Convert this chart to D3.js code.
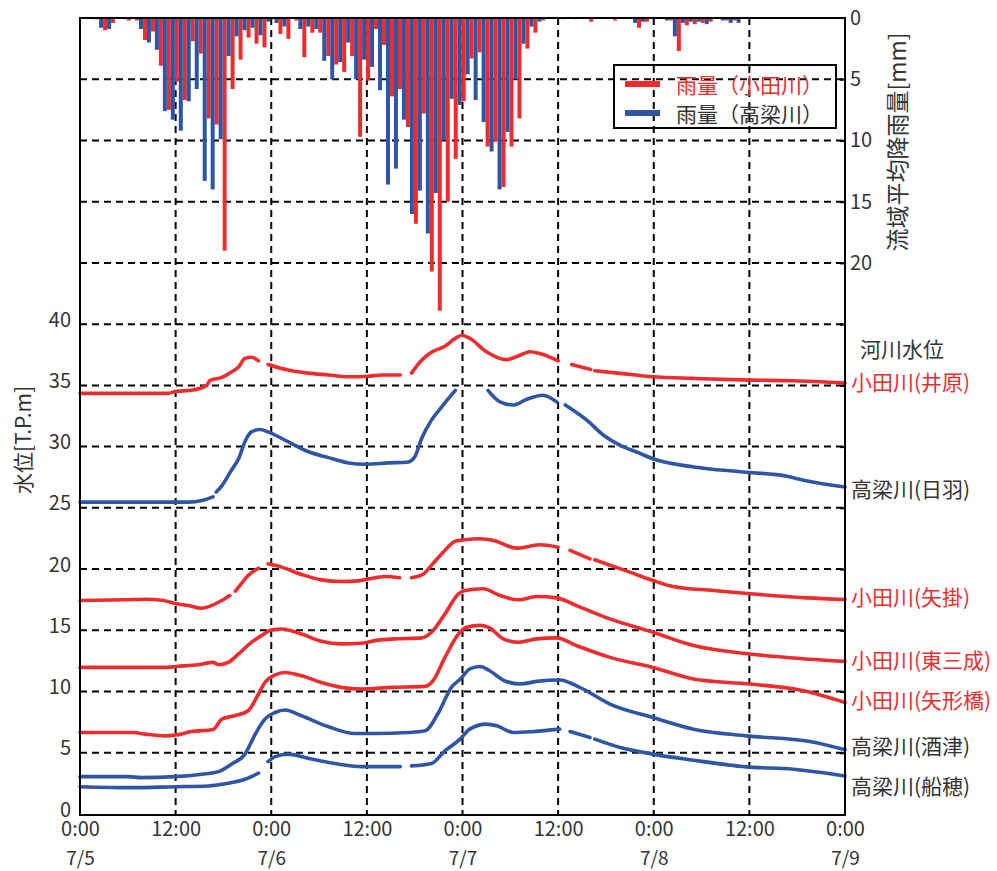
<!DOCTYPE html>
<html>
<head>
<meta charset="utf-8">
<script src="https://cdn.jsdelivr.net/npm/d3@7"></script>
<style>
  body { margin: 0; background: #fff; }
  text { font-family: "Noto Sans CJK JP", "Noto Sans", sans-serif; }
</style>
</head>
<body>
<div id="chart"></div>
<script>
// hourly basin-average rainfall [mm], hour 0 = 7/5 0:00
var rainOda = [0,0,0.1,1.0,0.4,0,0.2,0.2,1.8,1.1,3.9,7.5,5.2,6.7,1.9,2.9,8.2,8.7,19.0,5.8,
  3.4,1.6,2.1,2.4,0.1,1.3,1.7,0.2,3.2,1.2,1.2,3.1,3.8,4.4,3.1,9.7,5.1,0.9,2.2,6.4,
  5.8,8.9,16.8,7.8,20.7,23.9,15.0,11.5,6.8,3.3,2.8,10.5,10.1,13.8,10.5,8.2,2.5,1.2,0.2,0,
  0,0,0.1,0,0.3,0,0,0.2,0,0,0.8,0.3,0,0,0.2,2.7,0.6,0.5,0.4,0.3,
  0,0.2,0.2,0,0,0,0,0,0,0,0,0,0,0,0,0];
var rainTakahashi = [0,0.1,0.8,0.9,0,0.1,0,0.9,2.0,2.6,7.6,8.3,9.2,6.8,5.8,13.3,14.0,9.9,3.1,1.5,
  1.0,0.8,1.4,0.3,0.4,0.7,0,0.9,0.7,0.9,3.5,5.0,3.6,2.0,5.0,3.4,4.0,5.9,13.6,12.3,
  8.3,16.0,14.1,17.6,14.3,10.0,6.6,7.1,4.6,6.7,8.5,10.9,14.0,9.3,5.0,2.1,0.7,0.3,0,0,
  0.1,0,0,0,0,0,0,0,0,0.4,0.3,0,0,0.2,1.5,0.4,0.3,0.3,0.5,0,
  0.2,0.4,0.4,0,0,0,0,0,0,0,0,0,0,0,0,0];

// water levels [T.P.m] as [hour, level], null = missing data
var lvIbara = [[0,34.35],[11,34.35],[12,34.5],[14,34.6],[15.9,35.0],[16.3,35.4],[17.8,35.65],[19,36.1],
  [19.9,36.5],[20.7,37.2],[21.5,37.3],[22.4,37.0],null,[23.6,36.7],[26.1,36.25],[28.6,36.0],[31.2,35.85],
  [33.7,35.7],[36.2,35.75],[37.9,35.85],[40.2,35.85],null,[41.6,36.0],[42.9,37.07],[44.1,37.7],[45.8,38.2],
  [47,38.8],[47.9,39.1],[48.9,38.85],[51,37.75],[53.5,37.1],[54.8,37.35],[56.5,37.75],[57.7,37.6],[60,37.0],
  null,[61.7,36.7],[64.1,36.3],null,[64.6,36.2],[67.8,35.98],[71.9,35.7],[77,35.57],[84.1,35.43],
  [89.5,35.38],[96,35.2]];
var lvHiwa = [[0,25.47],[13.6,25.47],[15.3,25.6],[16.7,25.9],null,[17.1,26.3],[17.8,26.8],[19,28.07],
  [19.9,29.0],[20.7,30.4],[21.5,31.2],[22.6,31.4],[23.6,31.2],[26.1,30.4],[28.6,29.6],[31.2,29.1],
  [33.7,28.67],[35.8,28.56],[38.7,28.67],[41.2,28.75],[42,29.15],[42.9,30.7],[44.1,32.16],[45.4,33.25],
  [47.1,34.6],null,[51.2,34.6],[52.7,33.66],[54.4,33.4],[56,33.85],[58.1,34.2],[59.8,33.66],null,
  [60.9,33.4],[63.6,32.16],[65.7,30.93],[67.8,30.1],[69.8,29.57],[72.4,28.9],[77,28.34],[83.2,27.93],
  [88.7,27.58],[90.8,27.25],[96,26.7]];
var lvYakage = [[0,17.43],[5.6,17.49],[8.2,17.54],[10.5,17.43],[12.1,17.16],[13.6,17.02],[15.2,16.8],
  [17.8,17.43],[18.8,17.84],null,[19.5,18.2],[19.9,18.52],[21.1,19.48],[22.4,20.07],null,[23.6,20.43],
  [25.3,20.16],[27.8,19.56],[30.3,19.12],[32.8,18.99],[34.9,19.04],[36.2,19.2],[38.3,19.39],[40.1,19.29],
  null,[41.6,19.29],[43.1,19.6],[44.1,20.3],[45.4,21.25],[47.1,22.28],[48.3,22.4],[50.2,22.48],
  [51.9,22.34],[54.8,21.71],[57.7,21.99],[60,21.79],null,[61.5,21.52],[64,20.84],null,[64.6,20.76],
  [69,19.75],[71.9,19.07],[74.4,18.58],[79.5,18.25],[84.1,17.98],[91.2,17.65],[96,17.51]];
var lvHigashimina = [[0,11.97],[10.7,11.97],[12.1,12.05],[14.8,12.19],[16.7,12.38],[17.4,12.19],
  [18.6,12.38],[19.9,13.07],[21.5,14.02],[22.8,14.57],[24,15.03],[25.3,15.11],[27.8,14.7],[30.3,14.1],
  [32.8,13.89],[35.3,13.94],[37.4,14.2],[39.5,14.3],[42.9,14.38],[44.1,14.84],[45.8,16.34],[47.5,17.98],
  [48.3,18.25],[50.6,18.39],[52.7,17.84],[55,17.49],[57.3,17.76],[59.8,17.65],[62.3,17.02],[66.5,15.93],
  [71.9,14.84],[77,13.75],[84.1,13.07],[89.5,12.74],[96,12.46]];
var lvYagatabashi = [[0,6.65],[6.7,6.65],[8.2,6.52],[10.7,6.38],[12.1,6.46],[14,6.73],[16.7,6.9],
  [17.8,7.75],[19.4,8.02],[21.1,8.43],[22.4,9.8],[23.2,10.74],[24.5,11.37],[25.7,11.56],[27.8,11.29],
  [30.3,10.74],[32.8,10.34],[35.3,10.2],[39.1,10.34],[43.3,10.42],[44.3,10.88],[45.8,12.79],[47.5,14.7],
  [48.5,15.25],[50.2,15.4],[51.4,15.2],[53.1,14.3],[55,14.02],[57.3,14.3],[59.8,14.38],[62.3,13.75],
  [66.5,12.79],[71.9,11.97],[77,11.02],[84.1,10.61],[90.8,10.07],[96,9.11]];
var lvSakazu = [[0,3.05],[6,3.05],[7.7,2.97],[11.9,3.05],[15.3,3.25],[17.4,3.46],[19,4.07],[20.7,4.89],
  [22,6.52],[23.2,7.75],[24.5,8.29],[25.7,8.49],[27.8,8.02],[31.2,7.12],[34.5,6.57],[37,6.57],[41.2,6.65],
  [43.3,6.79],[45,8.29],[46.6,10.34],[47.7,11.0],[48.9,11.84],[50.2,12.05],[51.4,11.7],[53.1,10.94],
  [55.2,10.61],[57.3,10.83],[60.2,10.94],[62.7,10.34],[66.5,8.98],[71.9,7.88],[77,6.93],[83.6,6.38],
  [91.6,5.92],[96,5.24]];
var lvFunao = [[0,2.23],[6.5,2.15],[11.9,2.23],[16.1,2.29],[18.6,2.51],[20.7,2.84],[22.4,3.33],null,
  [23.6,4.28],[24.5,4.69],[26.1,4.89],[28.6,4.56],[32,4.12],[35.3,3.87],[40.2,3.87],null,[41.6,3.93],
  [44.1,4.12],[45.8,5.16],[47.7,6.11],[48.9,6.93],[51,7.34],[52.3,7.2],[54.4,6.65],[56.9,6.73],[60.2,6.93],
  null,[61.5,6.73],[64,6.24],null,[64.6,6.11],[67.8,5.43],[71.9,4.89],[77,4.39],[83.6,3.85],[89.5,3.66],
  [96,3.11]];

var stations = [
  {name: "小田川(井原)", data: lvIbara, river: "oda", labelY: 381},
  {name: "高梁川(日羽)", data: lvHiwa, river: "takahashi", labelY: 488},
  {name: "小田川(矢掛)", data: lvYakage, river: "oda", labelY: 596},
  {name: "小田川(東三成)", data: lvHigashimina, river: "oda", labelY: 659},
  {name: "小田川(矢形橋)", data: lvYagatabashi, river: "oda", labelY: 699},
  {name: "高梁川(酒津)", data: lvSakazu, river: "takahashi", labelY: 745},
  {name: "高梁川(船穂)", data: lvFunao, river: "takahashi", labelY: 785}
];

var timeTicks = d3.range(0, 97, 12);
var dateLabels = ["7/5", "7/6", "7/7", "7/8", "7/9"];
var levelTicks = d3.range(0, 41, 5);
var rainTicks = [0, 5, 10, 15, 20];

var RED = "#ee2c2e", BLUE = "#2f55a5", TXT = "#333";

var W = 997, H = 871,
    plotL = 80, plotR = 845, plotT = 18, plotB = 814;

var svg = d3.select("#chart").append("svg")
    .attr("width", W)
    .attr("height", H);

var x = d3.scaleLinear().domain([0, 96]).range([plotL, plotR]);
var yLevel = d3.scaleLinear().domain([0, 65]).range([plotB, plotT]);
var yRain = d3.scaleLinear().domain([0, 65]).range([plotT, plotB]);

// grid
svg.append("g").selectAll("line")
    .data(d3.range(5, 65, 5))
  .enter().append("line")
    .attr("x1", plotL).attr("x2", plotR)
    .attr("y1", function(d){ return yLevel(d); })
    .attr("y2", function(d){ return yLevel(d); })
    .attr("stroke", "#000").attr("stroke-width", 2)
    .attr("stroke-dasharray", "7,5");

svg.append("g").selectAll("line")
    .data(d3.range(12, 96, 12))
  .enter().append("line")
    .attr("x1", function(d){ return x(d); })
    .attr("x2", function(d){ return x(d); })
    .attr("y1", plotT).attr("y2", plotB)
    .attr("stroke", "#000").attr("stroke-width", 2)
    .attr("stroke-dasharray", "7,5");

// rainfall bars hanging from the top
var hours = d3.range(rainOda.length);
svg.append("g").selectAll("rect")
    .data(hours)
  .enter().append("rect")
    .attr("x", function(h){ return x(h - 0.1); })
    .attr("y", plotT)
    .attr("width", x(0.5) - x(0))
    .attr("height", function(h){ return yRain(rainOda[h]) - plotT; })
    .attr("fill", RED);

svg.append("g").selectAll("rect")
    .data(hours)
  .enter().append("rect")
    .attr("x", function(h){ return x(h + 0.4); })
    .attr("y", plotT)
    .attr("width", x(0.5) - x(0))
    .attr("height", function(h){ return yRain(rainTakahashi[h]) - plotT; })
    .attr("fill", BLUE);

// water level lines
var line = d3.line()
    .defined(function(d){ return d !== null; })
    .x(function(d){ return x(d[0]); })
    .y(function(d){ return yLevel(d[1]); })
    .curve(d3.curveMonotoneX);

svg.append("g").selectAll("path")
    .data(stations)
  .enter().append("path")
    .attr("d", function(d){ return line(d.data); })
    .attr("fill", "none")
    .attr("stroke", function(d){ return d.river == "oda" ? RED : BLUE; })
    .attr("stroke-width", 3.6)
    .attr("stroke-linecap", "round");

// frame
svg.append("rect")
    .attr("x", plotL).attr("y", plotT)
    .attr("width", plotR - plotL).attr("height", plotB + 1 - plotT)
    .attr("fill", "none").attr("stroke", "#000").attr("stroke-width", 2);

// left axis
var gl = svg.append("g")
    .attr("transform", "translate(" + plotL + ",0)")
    .call(d3.axisLeft(yLevel).tickValues(levelTicks).tickSize(0).tickPadding(9));
gl.select(".domain").remove();
gl.selectAll("text").attr("font-size", 20).attr("fill", TXT).attr("dy", "0.1em");

// right axis, rainfall
var gr = svg.append("g")
    .attr("transform", "translate(" + plotR + ",0)")
    .call(d3.axisRight(yRain).tickValues(rainTicks).tickSize(0).tickPadding(5));
gr.select(".domain").remove();
gr.selectAll("text").attr("font-size", 20).attr("fill", TXT);

// small inward ticks on the right axis
var gt = svg.append("g")
    .attr("transform", "translate(" + plotR + ",0)")
    .call(d3.axisLeft(yLevel).tickValues(d3.range(5, 65, 5)).tickSize(5).tickFormat(""));
gt.select(".domain").remove();
gt.selectAll("line").attr("stroke-width", 2);

// time axis
var gx = svg.append("g")
    .attr("transform", "translate(0," + (plotB + 1) + ")")
    .call(d3.axisBottom(x).tickValues(timeTicks).tickSize(0).tickPadding(7)
      .tickFormat(function(h){ return h % 24 == 0 ? "0:00" : "12:00"; }));
gx.select(".domain").remove();
gx.selectAll("text").attr("font-size", 20).attr("fill", TXT);
gx.selectAll(".tick").filter(function(h){ return h % 24 == 0; })
  .append("text")
    .attr("y", 41)
    .attr("dominant-baseline", "central")
    .attr("text-anchor", "middle")
    .attr("font-size", 19)
    .attr("fill", TXT)
    .text(function(h){ return dateLabels[h / 24]; });

// axis titles
svg.append("text")
    .attr("transform", "translate(22,440) rotate(-90)")
    .attr("text-anchor", "middle")
    .attr("dominant-baseline", "central")
    .attr("font-size", 21)
    .attr("fill", TXT)
    .text("水位[T.P.m]");

svg.append("text")
    .attr("transform", "translate(896,142) rotate(-90)")
    .attr("text-anchor", "middle")
    .attr("dominant-baseline", "central")
    .attr("font-size", 23)
    .attr("fill", TXT)
    .text("流域平均降雨量[mm]");

// station labels
svg.append("text")
    .attr("x", 860).attr("y", 348)
    .attr("dominant-baseline", "central")
    .attr("font-size", 21)
    .attr("fill", TXT)
    .text("河川水位");

svg.append("g").selectAll("text")
    .data(stations)
  .enter().append("text")
    .attr("x", 851)
    .attr("y", function(d){ return d.labelY; })
    .attr("dominant-baseline", "central")
    .attr("font-size", 21)
    .attr("fill", function(d){ return d.river == "oda" ? RED : TXT; })
    .text(function(d){ return d.name; });

// legend
var legendItems = [
  {label: "雨量（小田川）", color: RED, text: RED},
  {label: "雨量（高梁川）", color: BLUE, text: TXT}
];
var lg = svg.append("g").attr("transform", "translate(614,65)");
lg.append("rect")
    .attr("width", 222).attr("height", 63)
    .attr("fill", "none").attr("stroke", "#000").attr("stroke-width", 2);
var li = lg.selectAll(".item")
    .data(legendItems)
  .enter().append("g")
    .attr("transform", function(d, i){ return "translate(0," + (19 + i * 29) + ")"; });
li.append("line")
    .attr("x1", 11).attr("x2", 46)
    .attr("stroke", function(d){ return d.color; })
    .attr("stroke-width", 6);
li.append("text")
    .attr("x", 62)
    .attr("dominant-baseline", "central")
    .attr("font-size", 21)
    .attr("fill", function(d){ return d.text; })
    .text(function(d){ return d.label; });
</script>
</body>
</html>
